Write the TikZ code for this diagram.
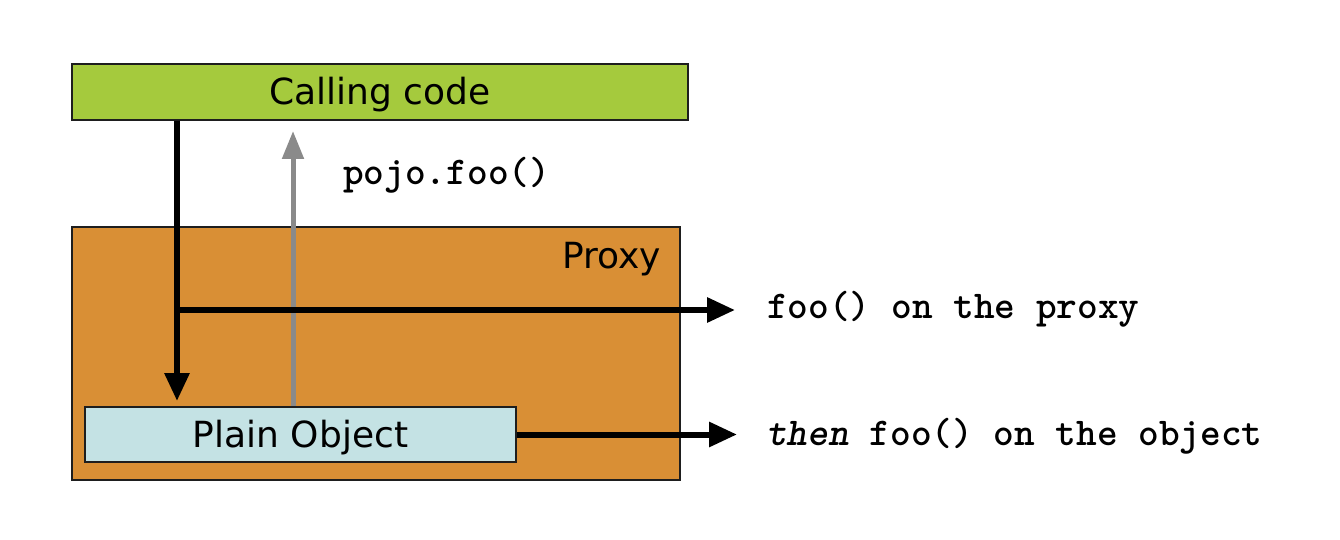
\documentclass[tikz,border=0pt]{standalone}
\usepackage{fontspec}
\setmainfont{DejaVu Sans}
\usetikzlibrary{arrows.meta}

\definecolor{callgreen}{HTML}{A5CA3D}
\definecolor{proxyorange}{HTML}{D98F35}
\definecolor{plainblue}{HTML}{C4E2E4}
\definecolor{returngray}{HTML}{8A8A8A}
\definecolor{edgedark}{HTML}{1E1E1E}

\tikzset{
  box/.style={draw=edgedark, line width=2pt, inner sep=0pt,
    font=\fontsize{36}{40}\selectfont, text height=26pt, text depth=0pt},
  boxlabel/.style={inner sep=0pt, font=\fontsize{36}{40}\selectfont},
  codelabel/.style={inner sep=0pt, anchor=base west,
    font=\ttfamily\bfseries\fontsize{39.4}{42}\selectfont},
  callflow/.style={line width=6pt, black,
    -{Triangle[length=28pt,width=24pt]}},
  backflow/.style={line width=5pt, returngray,
    -{Triangle[length=28pt,width=21pt]}},
}

\begin{document}
\begin{tikzpicture}[x=1pt, y=-1pt]
  % canvas
  \fill[white] (0,0) rectangle (1340,540);
  \useasboundingbox (0,0) rectangle (1340,540);

  % boxes
  \node[box, fill=callgreen, minimum width=616pt, minimum height=56pt]
    (call) at (380,92) {Calling code};
  \node[box, fill=proxyorange, minimum width=608pt, minimum height=253pt]
    (proxy) at (376,353.5) {};
  \node[boxlabel, anchor=base east] (proxyname) at (661,268) {Proxy};
  \node[box, fill=plainblue, minimum width=431pt, minimum height=55pt]
    (plain) at (300.5,434.5) {Plain Object};

  % text labels
  \node[codelabel] (pojo) at (343,185) {pojo.foo()};
  \node[codelabel] (onproxy) at (767,318) {foo() on the proxy};
  \node[codelabel] (onobject) at (766,445) {\textit{then} foo() on the object};

  % helper positions
  \coordinate (xcall) at (177,0);
  \coordinate (xback) at (293,0);
  \coordinate (fork) at (177,310);

  % connectors
  \draw[backflow, shorten >=10pt] (plain.north -| xback) -- (call.south -| xback);
  \draw[callflow, shorten >=5pt] (call.south -| xcall) -- (plain.north -| xcall);
  \draw[callflow, shorten >=32pt] (fork) -- (fork -| onproxy.west);
  \draw[callflow, shorten >=29pt] (plain.east) -- (plain.east -| onobject.west);
\end{tikzpicture}
\end{document}
